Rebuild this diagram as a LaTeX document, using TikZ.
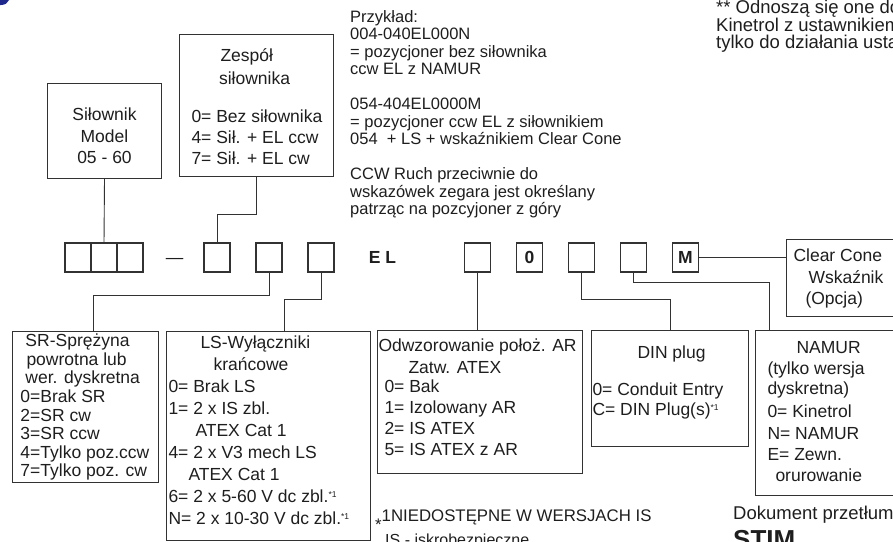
\documentclass[tikz,border=0pt]{standalone}
\usepackage{fontspec}
\setmainfont{Liberation Sans}
\usetikzlibrary{positioning}
\definecolor{inkgrey}{RGB}{30,30,30}
\definecolor{rulegrey}{RGB}{50,50,50}
\definecolor{markblue}{RGB}{30,40,140}
\newcommand{\boxfont}{\fontsize{17.5}{21}\selectfont}
\newcommand{\notefont}{\fontsize{16.5}{17.5}\selectfont}
\newcommand{\ind}[1]{\hspace*{#1pt}}
\newcommand{\starone}{\raisebox{5.5pt}{\fontsize{8.5}{8.5}\selectfont *1}}
\newcommand{\boxtext}[4]{\parbox[c][#2pt][t]{#1pt}{\raggedright\vspace*{#3pt}#4}}

\begin{document}
\begin{tikzpicture}[x=1pt, y=-1pt, node distance=26pt,
        every node/.style={text=inkgrey},
        panel/.style={rectangle,draw=rulegrey,line width=1pt,inner sep=0pt,
          anchor=north west,font=\boxfont},
        digit/.style={rectangle,draw=rulegrey,line width=1.2pt,inner sep=0pt,outer sep=0pt,
          minimum width=26pt,minimum height=29pt,font=\boxfont\bfseries},
        note/.style={inner sep=0pt,anchor=north west,align=left,font=\notefont},
        link/.style={draw=rulegrey,line width=0.9pt}]
        \useasboundingbox (0,0) rectangle (893,541);
        \clip (0,0) rectangle (893,541);
        \fill[markblue] (0,0) -- (9,0) .. controls (8,3) and (5,5) .. (1,5) -- (0,5) -- cycle;
        % upper boxes and notes
        \node[panel] (silownik) at (47,83) {\boxtext{114}{95}{24.5}{\centering Siłownik\\[1pt]Model\\05 - 60}};
        \node[panel] (zespol) at (179,34) {\boxtext{154}{142}{14.5}{\ind{41}Zespół\\[2pt]\ind{39.5}siłownika\\[17pt]\ind{12}0= Bez siłownika\\\ind{12}4= Sił. + EL ccw\\\ind{12}7= Sił. + EL cw}};
        \node[note] (example) at (350,10) {Przykład:\\004-040EL000N\\= pozycjoner bez siłownika\\ccw EL z NAMUR\\[17.5pt]054-404EL0000M\\= pozycjoner ccw EL z siłownikiem\\054\ \ + LS + wskaźnikiem Clear Cone\\[17.5pt]CCW Ruch przeciwnie do\\wskazówek zegara jest określany\\patrząc na pozcyjoner z góry};
        \node[note,font=\fontsize{18.5}{17}\selectfont] (remark) at (716,-0.5) {** Odnoszą się one do\\Kinetrol z ustawnikiem\\tylko do działania usta};
        % code row
        \node[digit] (d1) at (78,257.5) {};
        \node[digit,right=0pt of d1] (d2) {};
        \node[digit,right=0pt of d2] (d3) {};
        \node[anchor=base,inner sep=0pt,font=\boxfont] (dash) at (174.5,263.5) {—};
        \node[digit] (d4) at (217,257.5) {};
        \node[digit,right=of d4] (d5) {};
        \node[digit,right=of d5] (d6) {};
        \node[inner sep=0pt,font=\boxfont\bfseries] (el) at (382.5,257.5) {E L};
        \node[digit] (d7) at (477.5,257.5) {};
        \node[digit,right=of d7] (d8) {0};
        \node[digit,right=of d8] (d9) {};
        \node[digit,right=of d9] (d10) {};
        \node[digit,right=of d10] (dM) {M};
        \node[panel] (clear) at (786,239) {\boxtext{120}{77}{9.5}{\ind{7}Clear Cone\\[1pt]\ind{22}Wskaźnik\\\ind{19}(Opcja)}};
        % lower boxes
        \node[panel] (sr) at (12,331) {\boxtext{146}{151}{2.5}{\fontsize{17.5}{18.6}\selectfont\ind{13}SR-Sprężyna\\\ind{14}powrotna lub\\\ind{13}wer. dyskretna\\\ind{8}0=Brak SR\\\ind{8}2=SR cw\\\ind{8}3=SR ccw\\\ind{8}4=Tylko poz.ccw\\\ind{8}7=Tylko poz. cw}};
        \node[panel] (ls) at (166,331) {\boxtext{204}{209}{4.5}{\fontsize{17.5}{22}\selectfont\ind{34}LS-Wyłączniki\\\ind{47}krańcowe\\\ind{2}0= Brak LS\\\ind{2}1= 2 x IS zbl.\\\ind{29}ATEX Cat 1\\\ind{2}4= 2 x V3 mech LS\\\ind{22}ATEX Cat 1\\\ind{2}6= 2 x 5-60 V dc zbl.\starone\\\ind{2}N= 2 x 10-30 V dc zbl.\starone}};
        \node[panel] (odwz) at (377,330) {\boxtext{205}{143}{8.5}{\ind{1}Odwzorowanie położ. AR\\[1pt]\ind{31}Zatw. ATEX\\[-2pt]\ind{7}0= Bak\\\ind{7}1= Izolowany AR\\\ind{7}2= IS ATEX\\\ind{7}5= IS ATEX z AR}};
        \node[panel] (din) at (591,330) {\boxtext{157}{116}{15.5}{\ind{46}DIN plug\\[16pt]\ind{1}0= Conduit Entry\\[-1pt]\ind{1}C= DIN Plug(s)\starone}};
        \node[panel] (namur) at (755,330) {\boxtext{150}{165}{10.5}{\ind{41}NAMUR\\\ind{12}(tylko wersja\\[-1pt]\ind{12}dyskretna)\\[2pt]\ind{12}0= Kinetrol\\[1pt]\ind{12}N= NAMUR\\\ind{12}E= Zewn.\\\ind{20}orurowanie}};
        % footnotes
        \node[anchor=base west,inner sep=0pt,font=\fontsize{16.8}{18}\selectfont] (starnote) at (375,521) {\raisebox{-9pt}{*}1NIEDOSTĘPNE W WERSJACH IS};
        \node[anchor=base west,inner sep=0pt,font=\fontsize{16}{18}\selectfont] (isnote) at (385,545.5) {IS - iskrobezpieczne};
        \node[anchor=base west,inner sep=0pt,font=\fontsize{18.5}{20}\selectfont] (translated) at (733,519.5) {Dokument przetłum};
        \node[anchor=base west,inner sep=0pt,font=\fontsize{26}{28}\selectfont\bfseries] (stim) at (733,548) {STIM};
        % connectors
        \draw[link] (silownik.south) -- (d2.north);
        \draw[link] (zespol.south) -- ++(0,37) -| (d4.north);
        \draw[link] (d5.south) -- ++(0,23) -| ([xshift=8pt]sr.north);
        \draw[link] (d6.south) -- ++(0,27) -| ([xshift=16pt]ls.north);
        \draw[link] (d7.south) -- (d7.south |- odwz.north);
        \draw[link] (d9.south) -- ++(0,27) -| (din.north);
        \draw[link] (d10.south) -- ++(0,10) -| ([xshift=14pt]namur.north west);
        \draw[link] (dM.east) -- (dM.east -| clear.west);
      \end{tikzpicture}
\end{document}
